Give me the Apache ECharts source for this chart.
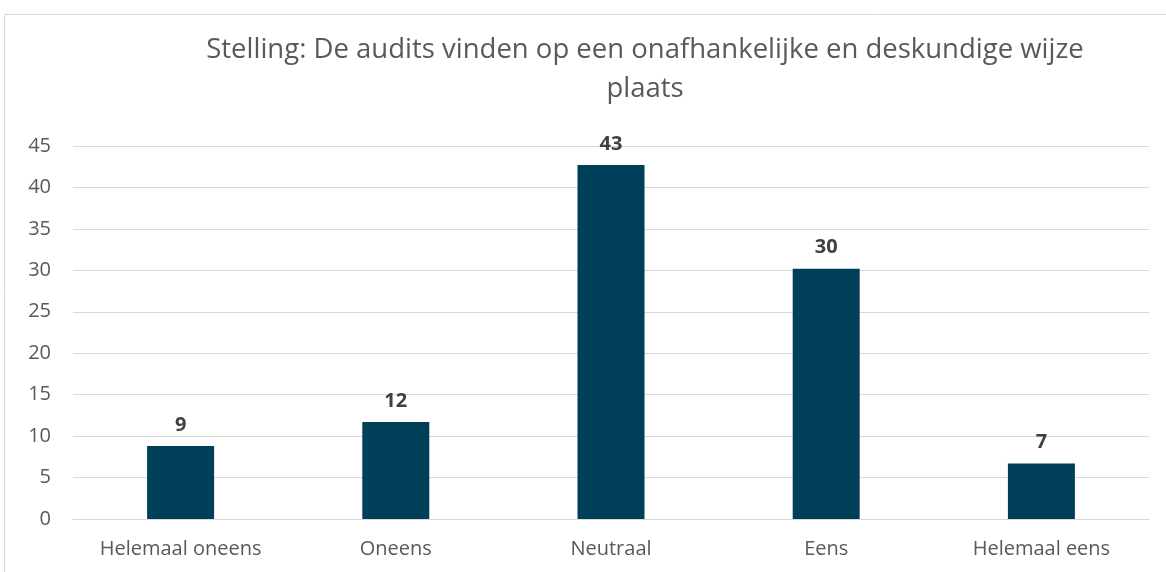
<!DOCTYPE html>
<html>
<head>
<meta charset="utf-8">
<script src="https://cdn.jsdelivr.net/npm/echarts@6/dist/echarts.min.js"></script>
<style>
  html, body { margin: 0; padding: 0; background: #fff; }
  #chart-container { width: 1166px; height: 572px; }
</style>
</head>
<body>
<div id="chart-container"></div>
<script>
// gegevens uit de grafiek
const categories = ['Helemaal oneens', 'Oneens', 'Neutraal', 'Eens', 'Helemaal eens'];
const values = [8.8, 11.7, 42.7, 30.2, 6.7];
const yTicks = { min: 0, max: 45, interval: 5 };
const titleText = 'Stelling: De audits vinden op een onafhankelijke en deskundige wijze\nplaats';

function renderChart() {
  var dom = document.getElementById('chart-container');
  var myChart = echarts.init(dom, null, { renderer: 'canvas' });

  const fontFamily = '"Open Sans", sans-serif';
  const barColor = '#003f5a';

  var option = {
    backgroundColor: '#fff',
    animation: false,
    title: {
      text: titleText,
      left: 640,
      textAlign: 'center',
      top: 26,
      textStyle: {
        fontFamily: fontFamily,
        fontWeight: 'normal',
        fontSize: 27.5,
        color: '#595959',
        lineHeight: 39
      }
    },
    graphic: [
      {
        type: 'rect',
        shape: { x: 4.5, y: 14.5, width: 1180, height: 600 },
        style: { fill: 'none', stroke: '#d9d9d9', lineWidth: 1 },
        silent: true,
        z: -1
      }
    ],
    grid: { left: 73, right: 17, top: 146, bottom: 53 },
    xAxis: {
      type: 'category',
      data: categories,
      axisLine: { lineStyle: { color: '#d9d9d9', width: 1 } },
      axisTick: { show: false },
      axisLabel: {
        fontFamily: fontFamily,
        fontSize: 20,
        color: '#595959',
        margin: 20
      }
    },
    yAxis: {
      type: 'value',
      min: yTicks.min,
      max: yTicks.max,
      interval: yTicks.interval,
      axisLine: { show: false },
      axisTick: { show: false },
      splitLine: { lineStyle: { color: '#d9d9d9', width: 1 } },
      axisLabel: {
        fontFamily: fontFamily,
        fontSize: 20,
        color: '#595959',
        margin: 22
      }
    },
    series: [
      {
        type: 'bar',
        data: values,
        barWidth: 67,
        itemStyle: { color: barColor },
        label: {
          show: true,
          position: 'top',
          distance: 11,
          fontFamily: fontFamily,
          fontWeight: 'bold',
          fontSize: 20,
          color: '#404040',
          formatter: function (p) { return Math.round(p.value); }
        }
      }
    ]
  };

  myChart.setOption(option);
  window.addEventListener('resize', myChart.resize);
}
renderChart();
</script>
</body>
</html>
